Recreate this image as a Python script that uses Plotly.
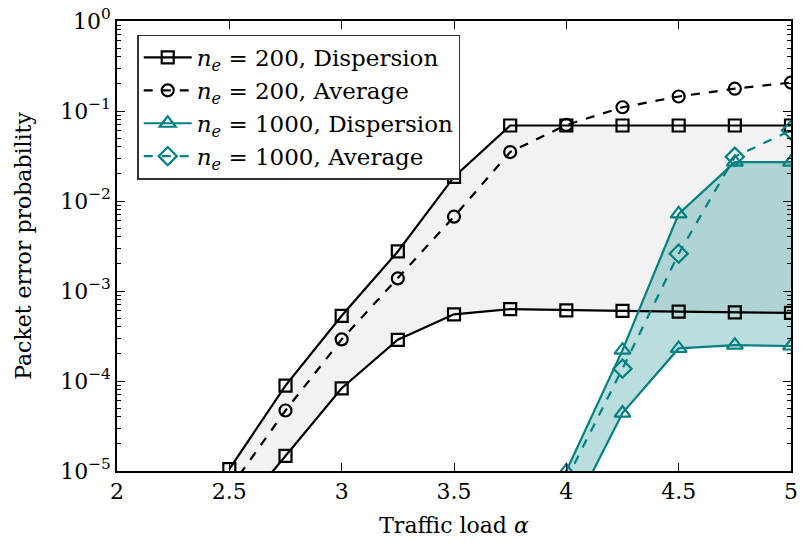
import plotly.graph_objects as go

# Traffic load values
alpha = [2.5, 2.75, 3.0, 3.25, 3.5, 3.75, 4.0, 4.25, 4.5, 4.75, 5.0]

# n_e = 200: dispersion band (upper/lower) and average
ne200_upper = [1.05e-5, 8.9e-5, 5.3e-4, 2.75e-3, 1.85e-2, 0.069, 0.069, 0.069, 0.069, 0.069, 0.069]
ne200_lower = [2.6e-6, 1.47e-5, 8.3e-5, 2.87e-4, 5.5e-4, 6.3e-4, 6.1e-4, 6.0e-4, 5.9e-4, 5.8e-4, 5.7e-4]
ne200_avg = [6.3e-6, 4.7e-5, 2.9e-4, 1.38e-3, 6.7e-3, 0.035, 0.07, 0.11, 0.145, 0.177, 0.207]

# n_e = 1000 (defined from alpha = 4)
alpha_1000 = [4.0, 4.25, 4.5, 4.75, 5.0]
ne1000_upper = [1.0e-5, 2.2e-4, 7.2e-3, 0.027, 0.027]
ne1000_lower = [2.6e-6, 4.4e-5, 2.3e-4, 2.5e-4, 2.45e-4]
ne1000_avg = [8e-6, 1.37e-4, 2.6e-3, 0.031, 0.061]

x_ticks = [2, 2.5, 3, 3.5, 4, 4.5, 5]
x_ticklabels = ["2", "2.5", "3", "3.5", "4", "4.5", "5"]
y_ticks = [1e-5, 1e-4, 1e-3, 1e-2, 1e-1, 1]
y_ticklabels = ["10<sup>\u22125</sup>", "10<sup>\u22124</sup>", "10<sup>\u22123</sup>",
                "10<sup>\u22122</sup>", "10<sup>\u22121</sup>", "10<sup>0</sup>"]
y_minor = [m * 10 ** e for e in range(-5, 0) for m in range(2, 10)]

BLACK = "#000000"
TEAL = "#008080"
FONT = "DejaVu Serif"
FS = 22

fig = go.Figure()

# Shaded dispersion bands
fig.add_trace(go.Scatter(
    x=alpha + alpha[::-1], y=ne200_upper + ne200_lower[::-1],
    fill="toself", fillcolor="#f2f2f2", line=dict(width=0),
    mode="lines", showlegend=False, hoverinfo="skip"))
fig.add_trace(go.Scatter(
    x=alpha_1000 + alpha_1000[::-1], y=ne1000_upper + ne1000_lower[::-1],
    fill="toself", fillcolor="rgba(0,128,128,0.27)", line=dict(width=0),
    mode="lines", showlegend=False, hoverinfo="skip"))

ne = "<i>n</i><sub><i>e</i></sub> = "

# n_e = 200 curves
fig.add_trace(go.Scatter(
    x=alpha, y=ne200_upper, mode="lines+markers", name=ne + "200, Dispersion",
    line=dict(color=BLACK, width=2.2),
    marker=dict(symbol="square-open", size=12, color=BLACK, line=dict(width=2.2)),
    legendgroup="a"))
fig.add_trace(go.Scatter(
    x=alpha, y=ne200_lower, mode="lines+markers", showlegend=False,
    line=dict(color=BLACK, width=2.2),
    marker=dict(symbol="square-open", size=12, color=BLACK, line=dict(width=2.2)),
    legendgroup="a"))
fig.add_trace(go.Scatter(
    x=alpha, y=ne200_avg, mode="lines+markers", name=ne + "200, Average",
    line=dict(color=BLACK, width=2.2, dash="dash"),
    marker=dict(symbol="circle-open", size=12, color=BLACK, line=dict(width=2.2))))

# n_e = 1000 curves
fig.add_trace(go.Scatter(
    x=alpha_1000, y=ne1000_upper, mode="lines+markers", name=ne + "1000, Dispersion",
    line=dict(color=TEAL, width=2.2),
    marker=dict(symbol="triangle-up-open", size=14, color=TEAL, line=dict(width=2.2)),
    legendgroup="b"))
fig.add_trace(go.Scatter(
    x=alpha_1000, y=ne1000_lower, mode="lines+markers", showlegend=False,
    line=dict(color=TEAL, width=2.2),
    marker=dict(symbol="triangle-up-open", size=14, color=TEAL, line=dict(width=2.2)),
    legendgroup="b"))
fig.add_trace(go.Scatter(
    x=alpha_1000, y=ne1000_avg, mode="lines+markers", name=ne + "1000, Average",
    line=dict(color=TEAL, width=2.2, dash="dash"),
    marker=dict(symbol="diamond-open", size=14, color=TEAL, line=dict(width=2.2))))

axis_common = dict(
    showline=True, linecolor=BLACK, linewidth=1.5, mirror="allticks",
    ticks="inside", tickcolor=BLACK, tickwidth=1, showgrid=False, zeroline=False,
    tickfont=dict(family=FONT, size=FS, color=BLACK),
)

fig.update_xaxes(
    range=[2, 5], tickvals=x_ticks, ticktext=x_ticklabels, ticklen=8,
    title=dict(text="Traffic load <i>\u03b1</i>", font=dict(family=FONT, size=FS, color=BLACK),
               standoff=14),
    **axis_common)
fig.update_yaxes(
    type="log", range=[-5, 0], tickvals=y_ticks, ticktext=y_ticklabels, ticklen=8,
    minor=dict(tickvals=y_minor, ticks="inside", ticklen=4, tickcolor=BLACK, tickwidth=1),
    title=dict(text="Packet error probability", font=dict(family=FONT, size=FS, color=BLACK),
               standoff=22),
    **axis_common)

fig.update_layout(
    width=803, height=544,
    margin=dict(l=117, r=5, t=18, b=73),
    plot_bgcolor="white", paper_bgcolor="white",
    font=dict(family=FONT, size=FS, color=BLACK),
    legend=dict(
        x=0.03, y=0.97, xanchor="left", yanchor="top",
        bgcolor="white", bordercolor="#333333", borderwidth=1.5,
        font=dict(family=FONT, size=23, color=BLACK),
        tracegroupgap=0, itemwidth=48),
)

fig.write_html("out.html")
